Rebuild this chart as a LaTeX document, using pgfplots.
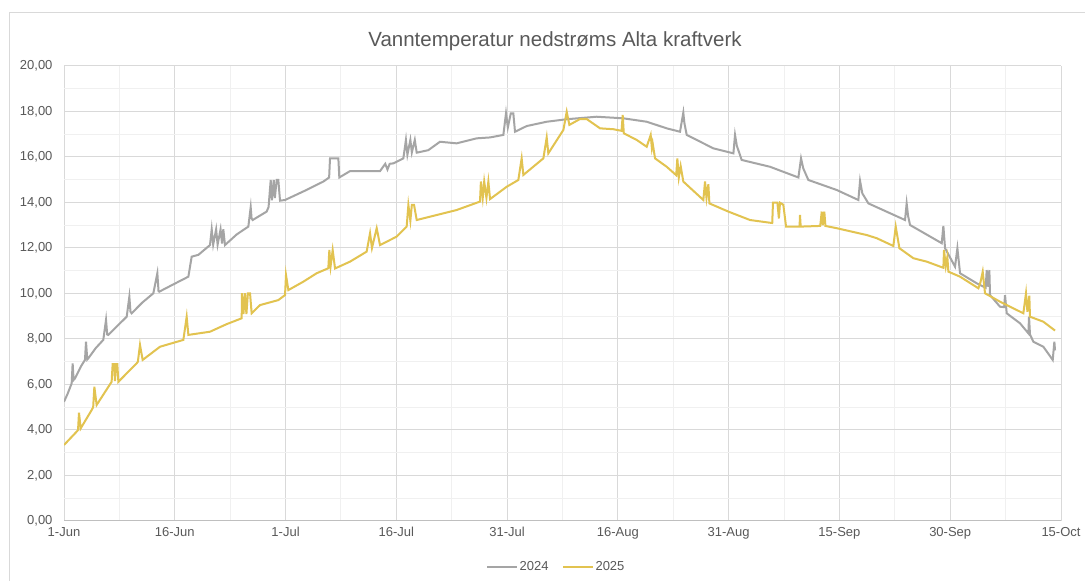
\documentclass[border=0pt]{standalone}
\usepackage{fontspec}
\setmainfont{Liberation Sans}
\usepackage{pgfplots}
\pgfplotsset{compat=1.18}
\definecolor{gr24}{HTML}{A5A5A5}
\definecolor{yl25}{HTML}{E2C350}
\definecolor{txt}{HTML}{595959}
\definecolor{gmaj}{HTML}{D9D9D9}
\definecolor{gmin}{HTML}{F0F0F0}
\definecolor{axl}{HTML}{BFBFBF}
\begin{document}
\begin{tikzpicture}[x=1pt,y=1pt]
\useasboundingbox (0,0) rectangle (1085,581);
\fill[white] (0,0) rectangle (1085,581);
\draw[gmaj, line width=1pt] (9,-5) -- (9,568.5) -- (1090,568.5);
\node[font=\fontsize{20.5}{24}\selectfont, text=txt] at (555,540) {Vanntemperatur nedstrøms Alta kraftverk};
\begin{axis}[
  at={(64pt,60pt)}, anchor=south west,
  scale only axis, width=997pt, height=455pt,
  xmin=0, xmax=135, ymin=0, ymax=20,
  xtick={0,15,...,135},
  xticklabels={1-Jun,16-Jun,1-Jul,16-Jul,31-Jul,16-Aug,31-Aug,15-Sep,30-Sep,15-Oct},
  minor xtick={7.5,22.5,...,127.5},
  ytick={0,2,...,20}, minor ytick={1,3,...,19},
  extra y ticks={0}, extra y tick labels={},
  extra y tick style={major grid style={draw=axl, line width=1pt}},
  grid=both,
  major grid style={draw=gmaj, line width=1pt},
  minor grid style={draw=gmin, line width=1pt},
  axis line style={draw=none},
  tick style={draw=none},
  /pgf/number format/assume math mode=true,
  ticklabel style={font=\fontsize{13}{15}\selectfont, text=txt},
  yticklabel style={xshift=-8pt, /pgf/number format/.cd, fixed, fixed zerofill, precision=2, use comma},
  xticklabel style={yshift=-3pt},
  legend columns=2,
  legend style={at={(axis description cs:0.4935,-0.101)}, anchor=center, draw=none, fill=none,
    font=\fontsize{13}{15}\selectfont, text=txt, nodes={inner sep=1.5pt},
    /tikz/every even column/.append style={column sep=12pt}},
  legend image code/.code={\draw[#1] (0pt,0pt) -- (30pt,0pt);},
]
\addplot[gr24, line width=2pt] coordinates {
(0,5.24)(0.5,5.6)(1.04,6.05)(1.17,6.93)(1.3,6.2)(1.49,6.27)(2.3,6.8)(2.84,7.08)(2.98,7.88)(3.15,7.1)(3.29,7.15)
(4.3,7.6)(5.32,7.96)(5.69,8.84)(5.85,8.2)(6.0,8.18)(7.3,8.6)(8.49,8.98)(8.85,9.86)(9.0,9.2)(9.16,9.13)
(10.6,9.6)(12.1,10.01)(12.64,10.89)(12.8,10.1)(12.9,10.08)(14.8,10.4)(16.84,10.74)(17.29,11.62)(18.2,11.7)
(19.77,12.13)(20.0,12.82)(20.2,12.15)(20.6,12.82)(20.8,12.15)(21.2,12.82)(21.4,12.2)(21.57,12.82)(21.8,12.13)
(23.4,12.6)(24.96,12.94)(25.28,13.79)(25.4,13.3)(25.55,13.23)(27.44,13.6)(27.7,13.8)(27.99,14.99)(28.15,14.1)
(28.4,14.99)(28.55,14.2)(28.8,14.99)(29.02,14.99)(29.25,14.08)(29.93,14.11)(32.5,14.5)(35.12,14.92)
(35.9,15.1)(36.02,15.94)(37.15,15.94)(37.28,15.1)(38.73,15.38)(42.79,15.38)(43.5,15.7)(43.8,15.45)(44.1,15.7)
(44.6,15.72)(45.95,15.94)(46.3,16.75)(46.5,16.1)(46.9,16.75)(47.1,16.2)(47.5,16.75)(47.76,16.19)(49.33,16.3)
(50.91,16.67)(53.17,16.6)(55.88,16.82)(57.69,16.86)(59.49,16.97)(59.85,17.92)(60.1,17.3)(60.5,17.92)(60.84,17.92)
(61.07,17.11)(62.65,17.36)(65.36,17.55)(68.07,17.66)(72.13,17.77)(75.74,17.7)(78.9,17.55)(81.61,17.26)
(83.41,17.11)(83.86,17.95)(84.0,17.5)(84.32,16.97)(87.93,16.38)(90.64,16.16)(90.86,16.97)(91.1,16.5)(91.76,15.87)
(95.6,15.57)(99.44,15.1)(99.8,15.94)(100.1,15.5)(100.79,14.99)(104.63,14.55)(107.56,14.11)(107.79,14.95)
(108.1,14.4)(108.92,13.96)(113.88,13.23)(114.1,13.96)(114.3,13.4)(114.56,13.01)(118.85,12.21)(119.07,12.97)
(119.3,11.99)(120.65,11.18)(120.97,11.99)(121.33,10.89)(123.58,10.45)(124.8,10.25)(124.94,11.03)(125.1,10.3)
(125.3,11.03)(125.39,9.93)(126.74,9.42)(127.3,9.4)(127.42,9.93)(127.65,9.13)(129.45,8.69)(130.58,8.25)
(130.67,8.98)(130.8,8.2)(131.26,7.88)(132.61,7.66)(133.88,7.08)(134.1,7.88)(134.19,7.5)
};
\addlegendentry{2024}
\addplot[yl25, line width=2pt] coordinates {
(0,3.34)(1.72,3.93)(1.9,4.0)(2.03,4.76)(2.26,4.07)(3.75,4.88)(3.95,5.0)(4.11,5.9)(4.42,5.1)
(6.45,6.12)(6.59,6.9)(6.8,6.9)(6.9,6.15)(7.05,6.9)(7.22,6.9)(7.36,6.12)(9.84,6.93)(10.0,7.0)(10.29,7.74)(10.65,7.08)
(13.0,7.66)(16.16,7.96)(16.61,8.98)(16.84,8.18)(19.77,8.32)(22,8.65)(24.06,8.91)(24.1,10.01)(24.3,9.1)(24.5,10.01)
(24.7,9.1)(24.9,10.01)(25.19,10.01)(25.41,9.13)(26.54,9.49)(29.02,9.71)(29.93,9.93)(30.06,10.81)(30.38,10.15)
(32.41,10.52)(34.21,10.89)(35.79,11.11)(35.93,11.91)(36.1,11.2)(36.38,11.91)(36.7,11.1)(38.73,11.4)(40.98,11.84)
(41.44,12.65)(41.7,12.0)(42.34,12.87)(42.79,12.13)(45.05,12.5)(46.4,12.94)(46.63,13.89)(46.9,13.2)(47.1,13.89)
(47.4,13.89)(47.76,13.23)(50.46,13.45)(53.17,13.67)(56.33,14.04)(56.45,14.92)(56.7,14.2)(56.9,14.92)(57.2,14.2)
(57.46,14.92)(57.69,14.15)(59.94,14.69)(61.52,14.99)(61.97,15.94)(62.2,15.21)(64.91,15.94)(65.36,16.86)
(65.58,16.16)(67.62,17.19)(68.07,17.99)(68.43,17.41)(69.87,17.67)(70.77,17.67)(72.58,17.26)(74.39,17.22)
(75.5,17.15)(75.65,17.85)(75.8,17.04)(77.55,16.75)(78.9,16.45)(79.44,16.97)(79.6,16.4)(79.71,16.6)(80.03,15.94)
(81.61,15.57)(82.9,15.2)(83.05,15.94)(83.25,15.1)(83.5,15.6)(83.86,14.92)(86.57,14.11)(86.8,14.92)(87.0,14.2)
(87.25,14.8)(87.39,13.96)(89.96,13.6)(92.89,13.23)(95.6,13.11)(95.9,13.1)(96.0,13.99)(96.6,13.99)(96.8,13.3)
(96.95,13.99)(97.4,13.9)(97.77,12.94)(99.6,12.94)(99.66,13.45)(99.75,12.94)(102.4,12.97)(102.6,13.6)(102.75,13.0)
(102.95,13.6)(103.1,12.97)(104.63,12.87)(108.69,12.57)(110.05,12.43)(112.3,12.09)(112.62,12.94)(113.12,11.99)
(115.01,11.55)(116.82,11.4)(119.07,11.13)(119.16,11.91)(119.4,11.2)(119.61,11.6)(119.75,10.96)(121.33,10.74)
(123.81,10.23)(124.1,10.5)(124.4,10.96)(124.71,10.01)(126.74,9.64)(129.9,9.13)(130.26,10.01)(130.45,9.2)
(130.71,9.9)(130.8,8.98)(132.61,8.76)(134.19,8.37)
};
\addlegendentry{2025}
\end{axis}
\end{tikzpicture}
\end{document}
